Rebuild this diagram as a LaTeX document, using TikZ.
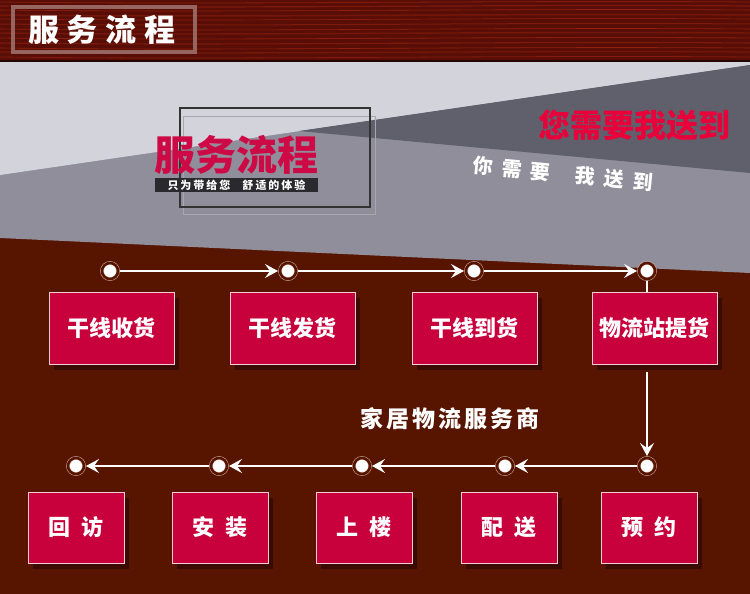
\documentclass[tikz,border=0pt]{standalone}
\usepackage{fontspec}
\newfontfamily\cjk{Noto Sans CJK SC}
\usetikzlibrary{arrows.meta}
\usetikzlibrary{shadows}
\definecolor{bg}{RGB}{87, 21, 0}
\definecolor{wood}{RGB}{88, 14, 6}
\definecolor{grain}{RGB}{160, 38, 16}
\definecolor{gl}{RGB}{211, 211, 219}
\definecolor{gm}{RGB}{143, 142, 154}
\definecolor{gd}{RGB}{96, 96, 108}
\definecolor{boxred}{RGB}{200, 0, 60}
\definecolor{logored}{RGB}{206, 10, 70}
\definecolor{hotred}{RGB}{232, 0, 58}
\definecolor{ring}{RGB}{215, 180, 170}
\definecolor{shade}{RGB}{55, 10, 2}
\definecolor{tagc}{RGB}{42, 42, 46}
\definecolor{framec}{RGB}{168, 167, 175}

\begin{document}
\begin{tikzpicture}[
  stepbox/.style={rectangle, fill=boxred, draw=white!80!boxred, line width=0.8pt, text=white,
    font=\cjk\bfseries\fontsize{22}{22}\selectfont,
    drop shadow={shadow xshift=5pt, shadow yshift=-6pt, fill=shade, opacity=0.9}},
  dot/.style={circle, fill=white, minimum size=16pt, inner sep=0pt, draw=ring, double=bg,
    double distance=2.6pt, line width=0.5pt, outer sep=2pt},
  flow/.style={draw=white, line width=1.6pt, -{Stealth[length=13pt, width=14pt, inset=5pt]}},
  link/.style={draw=white, line width=1.6pt}]
\useasboundingbox (0pt, 0pt) rectangle (750pt, -594pt);
% background
\fill[bg] (0pt, 0pt) rectangle (750pt, -594pt);
\fill[gm] (0pt, -62pt) -- (750pt, -62pt) -- (750pt, -273pt) -- (0pt, -238pt) -- cycle;
\fill[gl] (0pt, -62pt) -- (750pt, -62pt) -- (750pt, -65pt) -- (0pt, -175pt) -- cycle;
\fill[gd] (299pt, -131pt) -- (750pt, -65pt) -- (750pt, -173pt) -- cycle;
% wood band
\fill[wood] (0pt, 0pt) rectangle (750pt, -62pt);
\foreach \y/\w/\o in {2/0.8/0.6, 6/1.2/0.5, 10/0.6/0.8, 15/1.5/0.4, 19/0.7/0.7, 24/1/0.5,
  29/0.6/0.8, 33/1.4/0.4, 38/0.8/0.7, 43/1.1/0.5, 48/0.6/0.8, 52/1.3/0.4, 57/0.8/0.6}
  \draw[grain, line width=\w pt, opacity=\o] (0pt, -\y pt) .. controls (250pt, {-\y pt - 3pt}) and (500pt, {-\y pt + 2pt}) .. (750pt, -\y pt);
\draw[black!60!wood, line width=1.5pt] (0pt, -61pt) -- (750pt, -61pt);
\draw[white!45!wood, line width=4pt, opacity=0.8] (12.5pt, -7pt) rectangle (194.5pt, -52.5pt);
\node (title) at (102pt, -30pt) [text=white, font=\cjk\bfseries\fontsize{31}{31}\selectfont] {服\kern8pt 务\kern8pt 流\kern8pt 程};

% logo
\draw[framec, line width=1pt] (183pt, -116pt) rectangle (375pt, -214pt);
\draw[black!80, line width=1.2pt] (180pt, -108pt) rectangle (370pt, -207pt);
\node (logo) at (236.5pt, -155pt) [text=logored, font=\cjk\bfseries\fontsize{41}{41}\selectfont] {服务流程};
\node (tag) at (236.5pt, -185pt) [fill=tagc, minimum width=163pt, minimum height=14pt, inner sep=0pt,
  text=white, font=\cjk\bfseries\fontsize{11}{11}\selectfont] {只\kern2pt 为\kern2pt 带\kern2pt 给\kern2pt 您\kern12pt 舒\kern2pt 适\kern2pt 的\kern2pt 体\kern2pt 验};
\node (slogan) at (634pt, -125pt) [text=hotred, font=\cjk\bfseries\fontsize{32}{32}\selectfont] {您需要我送到};
\node (sub) at (563pt, -174pt) [rotate=-5.5, text=white, font=\cjk\bfseries\fontsize{20}{20}\selectfont]
  {你\kern9pt 需\kern9pt 要\kern25pt 我\kern9pt 送\kern9pt 到};

% steps
\node (s1) [stepbox, minimum width=125pt, minimum height=72pt] at (111.5pt, -328pt) {干线收货};
\node (s2) [stepbox, minimum width=125pt, minimum height=72pt] at (292.5pt, -328pt) {干线发货};
\node (s3) [stepbox, minimum width=125pt, minimum height=72pt] at (474.5pt, -328pt) {干线到货};
\node (s4) [stepbox, minimum width=125pt, minimum height=72pt] at (654.5pt, -328pt) {物流站提货};
\node (s5) [stepbox, minimum width=96pt, minimum height=71pt] at (649pt, -527.5pt) {预\kern11pt 约};
\node (s6) [stepbox, minimum width=96pt, minimum height=71pt] at (509pt, -527.5pt) {配\kern11pt 送};
\node (s7) [stepbox, minimum width=96pt, minimum height=71pt] at (364pt, -527.5pt) {上\kern11pt 楼};
\node (s8) [stepbox, minimum width=96pt, minimum height=71pt] at (220pt, -527.5pt) {安\kern11pt 装};
\node (s9) [stepbox, minimum width=96pt, minimum height=71pt] at (76pt, -527.5pt) {回\kern11pt 访};

\node (p1) [dot] at (110pt, -271pt) {};
\node (p2) [dot] at (288pt, -271pt) {};
\node (p3) [dot] at (474pt, -271pt) {};
\node (p4) [dot] at (647pt, -271pt) {};
\node (p5) [dot] at (647pt, -466pt) {};
\node (p6) [dot] at (505pt, -466pt) {};
\node (p7) [dot] at (362pt, -466pt) {};
\node (p8) [dot] at (219pt, -466pt) {};
\node (p9) [dot] at (76pt, -466pt) {};

\node (brand) at (450pt, -419pt) [text=white, font=\cjk\bfseries\fontsize{23}{23}\selectfont]
  {家\kern3pt 居\kern3pt 物\kern3pt 流\kern3pt 服\kern3pt 务\kern3pt 商};

\draw[flow] (p1) -- (p2);
\draw[flow] (p2) -- (p3);
\draw[flow] (p3) -- (p4);
\draw[link] (p4) -- (p4 |- s4.north);
\draw[flow, shorten <=8pt] (p4 |- s4.south) -- (p5);
\draw[flow] (p5) -- (p6);
\draw[flow] (p6) -- (p7);
\draw[flow] (p7) -- (p8);
\draw[flow] (p8) -- (p9);
\end{tikzpicture}
\end{document}
